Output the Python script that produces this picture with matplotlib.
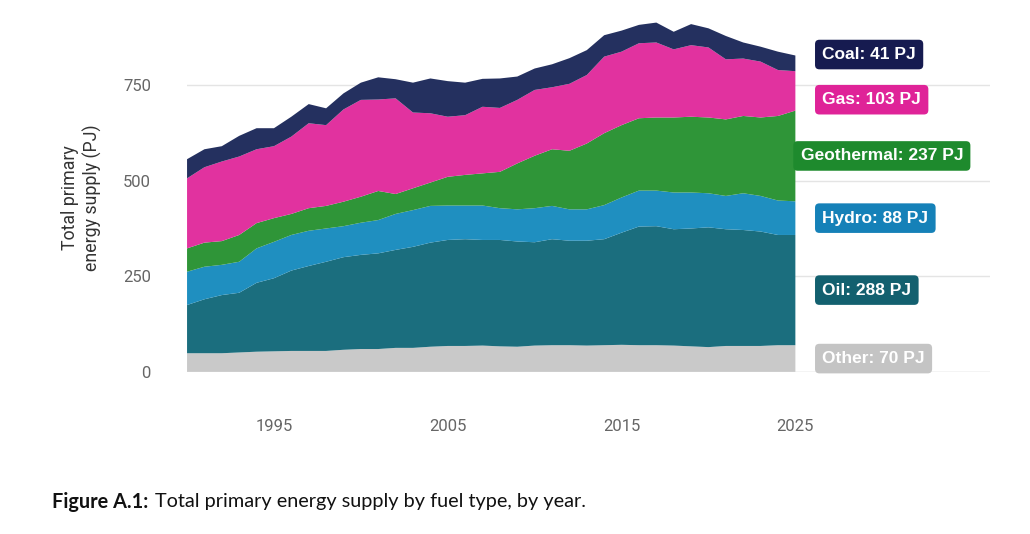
import numpy as np
import matplotlib.pyplot as plt

# values (PJ per year)
years = np.arange(1990, 2026)
other = [49, 49, 49, 51, 53, 54, 55, 55, 55, 58, 60, 60, 63, 63, 66, 68, 68, 69,
         67, 66, 69, 70, 70, 69, 70, 71, 70, 70, 69, 67, 65, 68, 68, 68, 70, 70]
oil = [126, 141, 152, 156, 180, 191, 210, 222, 233, 242, 246, 250, 256, 264, 272, 277, 279, 276,
       278, 275, 270, 277, 273, 274, 277, 293, 310, 311, 304, 308, 313, 305, 303, 299, 288, 288]
hydro = [87, 85, 79, 81, 90, 95, 93, 92, 87, 81, 84, 87, 94, 96, 96, 90, 88, 90,
         83, 84, 89, 87, 82, 82, 89, 92, 94, 93, 96, 94, 89, 87, 96, 93, 90, 88]
geothermal = [61, 63, 62, 70, 66, 62, 55, 59, 59, 64, 68, 76, 52, 57, 61, 75, 80, 84,
              95, 120, 137, 148, 153, 172, 188, 189, 189, 191, 196, 198, 198, 200, 202, 205, 221, 237]
gas = [183, 197, 208, 205, 193, 188, 202, 222, 211, 241, 253, 239, 250, 198, 181, 157, 156, 174,
       167, 166, 172, 162, 175, 179, 200, 192, 196, 196, 178, 187, 183, 157, 150, 146, 120, 103]
coal = [50, 47, 40, 54, 55, 47, 52, 50, 44, 42, 45, 58, 50, 78, 91, 93, 85, 73,
        77, 61, 56, 60, 67, 65, 56, 55, 48, 52, 46, 55, 50, 61, 42, 39, 48, 41]

names = ['Other', 'Oil', 'Hydro', 'Geothermal', 'Gas', 'Coal']
series = [other, oil, hydro, geothermal, gas, coal]
area_cols = ['#c9c9c9', '#1b6e7e', '#1f8fc0', '#2f9538', '#e1329f', '#24305f']
box_cols = ['#c4c4c4', '#13606f', '#1581b8', '#1e8a2d', '#df2398', '#161b50']

fig = plt.figure(figsize=(10.3, 5.34), dpi=100)
ax = fig.add_axes([0.1816, 0.3034, 0.7796, 0.688])

ax.stackplot(years, series, colors=area_cols, linewidth=0)

ax.set_xlim(1990, 2036.2)
ax.set_ylim(0, 960)
ax.set_yticks([0, 250, 500, 750])
ax.set_xticks([1995, 2005, 2015, 2025])
ax.grid(axis='y', color='#e4e4e4', lw=1)
ax.set_axisbelow(True)
ax.axhline(0, color='#e4e4e4', lw=1, zorder=3)
for s in ax.spines.values():
    s.set_visible(False)
ax.tick_params(axis='y', length=0, pad=26, labelsize=12, labelcolor='#666666')
ax.tick_params(axis='x', length=0, pad=34, labelsize=12, labelcolor='#666666')
for t in ax.get_xticklabels() + ax.get_yticklabels():
    t.set_family('Roboto')

fig.text(0.079, 0.63, 'Total primary\nenergy supply (PJ)', rotation=90,
         ha='center', va='center', fontsize=12.8, color='#333333',
         family='Roboto', linespacing=1.3)

# end labels: middle of each band in the last year, then pushed apart
last = np.array([s[-1] for s in series], dtype=float)
tops = np.cumsum(last)
mids = tops - last / 2
pos = mids.copy()
gap = 118
for i in range(len(pos) - 1):
    if pos[i + 1] - pos[i] < gap:
        c = (pos[i + 1] + pos[i]) / 2
        pos[i] = c - gap / 2
        pos[i + 1] = c + gap / 2

for i, name in enumerate(names):
    x = 2026.55 if name != 'Geothermal' else 2025.3
    ax.text(x, pos[i], f'{name}: {int(last[i])} PJ', ha='left', va='center',
            fontsize=12.5, fontweight='bold', color='white', family='Liberation Sans',
            bbox=dict(boxstyle='round,pad=0.42,rounding_size=0.25',
                      fc=box_cols[i], ec='none'), clip_on=False)

# caption
cap_y = 1 - 502 / 534
t1 = fig.text(52 / 1030, cap_y, 'Figure A.1:', fontsize=14.3, fontweight='bold',
              family='Lato', va='center', color='#111111')
fig.canvas.draw()
bb = t1.get_window_extent(fig.canvas.get_renderer())
fig.text(bb.x1 / 1030 + 0.0065, cap_y, 'Total primary energy supply by fuel type, by year.',
         fontsize=14.3, family='Lato', va='center', color='#111111')

fig.savefig('out.png', dpi=100)
